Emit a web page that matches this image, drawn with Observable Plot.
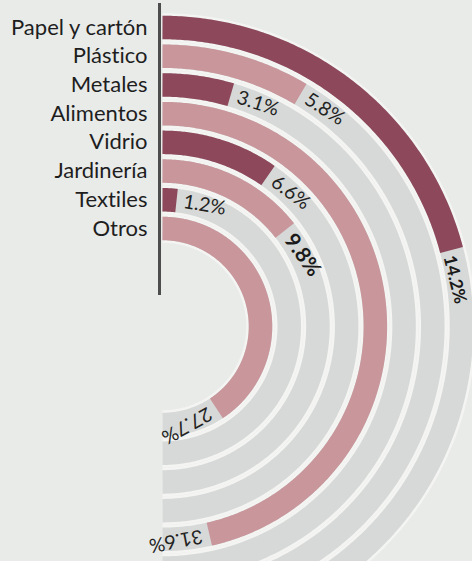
<!DOCTYPE html>
<html>
<head>
<meta charset="utf-8">
<script src="https://cdn.jsdelivr.net/npm/d3@7"></script>
<script src="https://cdn.jsdelivr.net/npm/@observablehq/plot@0.6"></script>
<style>
  html, body { margin: 0; padding: 0; background: #e9ebe9; }
  #chart svg { display: block; }
  #chart text { font-variant-ligatures: none; font-feature-settings: "liga" 0, "clig" 0; }
</style>
</head>
<body>
<div id="chart"></div>
<script>
// ---- data ----
const categories = ["Papel y cartón", "Plástico", "Metales", "Alimentos", "Vidrio", "Jardinería", "Textiles", "Otros"];
const values = [14.2, 5.8, 3.1, 31.6, 6.6, 9.8, 1.2, 27.7];
const valueLabels = ["14.2%", "5.8%", "3.1%", "31.6%", "6.6%", "9.8%", "1.2%", "27.7%"];
const tones = ["oscuro", "claro", "oscuro", "claro", "oscuro", "claro", "oscuro", "claro"];
const boldLabels = ["14.2%", "9.8%"];

// ---- layout ----
const W = 472, H = 561;
const cx = 162, cy = 326;          // centre of the rings, in pixels
const band = 23.5;                 // ring thickness
const angle = d3.scaleLinear([0, 34], [0, Math.PI]);   // value -> angle (clockwise from top)
const radius = d3.scalePoint(categories, [299, 98]);   // category -> ring radius

function arcPoints(cat, a1) {
  const r = radius(cat);
  const n = Math.max(2, Math.ceil(a1 / (Math.PI / 360)));
  return d3.range(n + 1).map(i => {
    const t = a1 * i / n;
    return {cat, x: r * Math.sin(t), y: r * Math.cos(t)};
  });
}

const tracks = categories.flatMap(c => arcPoints(c, Math.PI));
const bars = categories.flatMap((c, i) =>
  arcPoints(c, angle(values[i])).map(p => ({...p, tone: tones[i]})));
const labelRows = categories.map((c, i) => {
  // keep the outermost ring's label inside the right edge
  const r = radius(c) - (i === 0 ? 4 : 0);
  const t = angle(values[i]) + (i === 0 ? 5 : 7) / r;
  return {cat: c, label: valueLabels[i], x: r * Math.sin(t), y: r * Math.cos(t),
          rot: t * 180 / Math.PI, bold: boldLabels.includes(valueLabels[i])};
});

const chart = Plot.plot({
  width: W,
  height: H,
  margin: 0,
  x: {domain: [-cx, W - cx], axis: null},
  y: {domain: [cy - H, cy], axis: null},
  color: {domain: ["oscuro", "claro"], range: ["#8d485b", "#c8969b"]},
  style: {background: "#e9ebe9", fontFamily: "Lato, 'Open Sans', sans-serif", color: "#1e1e1e"},
  marks: [
    Plot.line(tracks, {x: "x", y: "y", z: "cat", stroke: "#f4f5f3", strokeWidth: band + 5, strokeLinecap: "butt"}),
    Plot.line(tracks, {x: "x", y: "y", z: "cat", stroke: "#d6d9d7", strokeWidth: band, strokeLinecap: "butt"}),
    Plot.line(bars, {x: "x", y: "y", z: "cat", stroke: "tone", strokeWidth: band, strokeLinecap: "butt"}),
    Plot.ruleX([0], {y1: cy - 3, y2: cy - 295, dx: -3, stroke: "#4d4d4d", strokeWidth: 3}),
    Plot.text(categories, {x: () => -15, y: d => radius(d), text: d => d, textAnchor: "end",
      fontSize: 22, fill: "#1e1e1e"}),
    Plot.text(labelRows.filter(d => !d.bold), {x: "x", y: "y", text: "label", rotate: "rot",
      textAnchor: "start", fontSize: 19.5, fill: "#222"}),
    Plot.text(labelRows.filter(d => d.bold), {x: "x", y: "y", text: "label", rotate: "rot",
      textAnchor: "start", fontSize: d => d.label === "9.8%" ? 21 : 17.5, fontWeight: "bold", fill: "#1a1a1a"})
  ]
});
document.getElementById("chart").append(chart);
</script>
</body>
</html>
